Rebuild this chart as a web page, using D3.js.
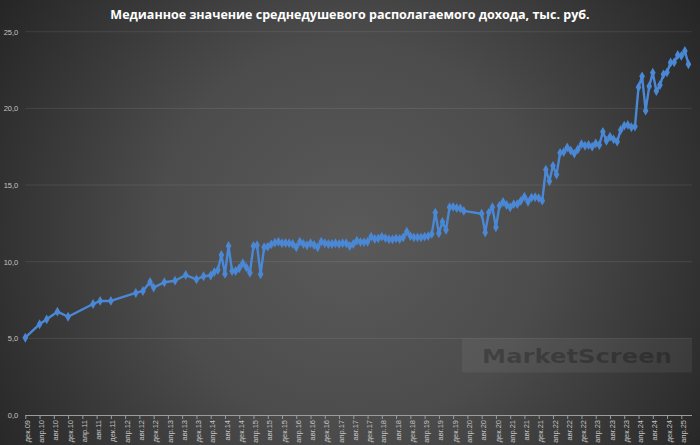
<!DOCTYPE html>
<html><head><meta charset="utf-8">
<script src="https://cdn.jsdelivr.net/npm/d3@7"></script>
<style>html,body{margin:0;padding:0;background:#333;}svg{display:block;}</style>
</head><body><svg id="c" width="700" height="445"></svg>
<script>
const title = "Медианное значение среднедушевого располагаемого дохода, тыс. руб.";
const dates = ["2009-12","2010-04","2010-06","2010-09","2010-12","2011-07","2011-09","2011-12","2012-07","2012-09","2012-11","2012-12","2013-03","2013-06","2013-09","2013-12","2014-02","2014-04","2014-05","2014-06","2014-07","2014-08","2014-09","2014-10","2014-11","2014-12","2015-01","2015-02","2015-03","2015-04","2015-05","2015-06","2015-07","2015-08","2015-09","2015-10","2015-11","2015-12","2016-01","2016-02","2016-03","2016-04","2016-05","2016-06","2016-07","2016-08","2016-09","2016-10","2016-11","2016-12","2017-01","2017-02","2017-03","2017-04","2017-05","2017-06","2017-07","2017-08","2017-09","2017-10","2017-11","2017-12","2018-01","2018-02","2018-03","2018-04","2018-05","2018-06","2018-07","2018-08","2018-09","2018-10","2018-11","2018-12","2019-01","2019-02","2019-03","2019-04","2019-05","2019-06","2019-07","2019-08","2019-09","2019-10","2019-11","2019-12","2020-01","2020-02","2020-03","2020-08","2020-09","2020-10","2020-11","2020-12","2021-01","2021-02","2021-03","2021-04","2021-05","2021-06","2021-07","2021-08","2021-09","2021-10","2021-11","2021-12","2022-01","2022-02","2022-03","2022-04","2022-05","2022-06","2022-07","2022-08","2022-09","2022-10","2022-11","2022-12","2023-01","2023-02","2023-03","2023-04","2023-05","2023-06","2023-07","2023-08","2023-09","2023-10","2023-11","2023-12","2024-01","2024-02","2024-03","2024-04","2024-05","2024-06","2024-07","2024-08","2024-09","2024-10","2024-11","2024-12","2025-01","2025-02","2025-03","2025-04","2025-05","2025-06"];
const values = [5.04,5.92,6.24,6.74,6.41,7.24,7.44,7.44,7.96,8.09,8.68,8.31,8.66,8.76,9.13,8.85,9.05,9.10,9.32,9.45,10.44,9.20,11.02,9.39,9.39,9.57,9.90,9.63,9.28,11.02,11.07,9.18,10.94,10.98,11.13,11.24,11.30,11.20,11.22,11.20,11.15,10.94,11.30,11.15,11.07,11.20,11.09,10.94,11.30,11.20,11.15,11.15,11.20,11.15,11.20,11.20,11.02,11.15,11.37,11.28,11.28,11.30,11.63,11.48,11.52,11.63,11.54,11.46,11.46,11.52,11.48,11.59,11.96,11.67,11.59,11.59,11.59,11.63,11.67,11.80,13.20,11.85,12.60,12.07,13.55,13.57,13.50,13.48,13.31,13.13,11.90,13.20,13.55,12.24,13.64,13.89,13.70,13.55,13.75,13.75,13.97,14.24,13.91,14.18,14.20,14.15,13.98,16.00,15.24,16.25,15.68,17.10,17.15,17.45,17.24,17.05,17.33,17.67,17.56,17.61,17.50,17.72,17.61,18.47,17.89,18.15,17.98,17.83,18.59,18.87,18.92,18.77,18.81,21.38,22.09,19.85,21.44,22.33,21.13,21.52,22.22,22.35,22.99,23.00,23.48,23.42,23.74,22.88];
const xTickLabels = ["дек.09","апр.10","авг.10","дек.10","апр.11","авг.11","дек.11","апр.12","авг.12","дек.12","апр.13","авг.13","дек.13","апр.14","авг.14","дек.14","апр.15","авг.15","дек.15","апр.16","авг.16","дек.16","апр.17","авг.17","дек.17","апр.18","авг.18","дек.18","апр.19","авг.19","дек.19","апр.20","авг.20","дек.20","апр.21","авг.21","дек.21","апр.22","авг.22","дек.22","апр.23","авг.23","дек.23","апр.24","авг.24","дек.24","апр.25"];
const yTicks = [0,5,10,15,20,25];
const watermark = "MarketScreen";

const svg = d3.select("#c");
const W = 700, H = 445;
const defs = svg.append("defs");
const rg = defs.append("radialGradient").attr("id","bg").attr("gradientUnits","userSpaceOnUse")
  .attr("cx",350).attr("cy",235).attr("r",430);
rg.append("stop").attr("offset","0").attr("stop-color","#5a5a5a");
rg.append("stop").attr("offset","0.45").attr("stop-color","#4c4c4c");
rg.append("stop").attr("offset","1").attr("stop-color","#242424");
svg.append("rect").attr("width",W).attr("height",H).attr("fill","url(#bg)");

const monthIdx = s => { const [y,m] = s.split("-").map(Number); return (y-2009)*12 + (m-12); };
const data = dates.map((d,i)=>({m: monthIdx(d), v: values[i]}));

const x = d3.scaleLinear().domain([0,187]).range([25.3,692]);
const y = d3.scaleLinear().domain([0,25]).range([415,31.7]);

// gridlines
svg.append("g").selectAll("line").data(yTicks.filter(t=>t>0)).join("line")
  .attr("x1",x(0)).attr("x2",x(187)).attr("y1",d=>y(d)).attr("y2",d=>y(d))
  .attr("stroke","rgba(255,255,255,0.09)").attr("stroke-width",1);

// y axis labels
const yAxis = d3.axisLeft(y).tickValues(yTicks).tickSize(0).tickPadding(7)
  .tickFormat(d=>d3.format(".1f")(d).replace(".",","));
const gy = svg.append("g").attr("transform",`translate(${x(0)},0)`).call(yAxis);
gy.select(".domain").remove();
gy.selectAll("text").attr("fill","#c4c4c4").style("font-family","Liberation Sans, Arial, sans-serif").style("font-size","7.5px");

// x axis
const xAxis = d3.axisBottom(x).tickValues(d3.range(0,185,4)).tickSize(4).tickPadding(0)
  .tickFormat((d,i)=>xTickLabels[i]);
const gx = svg.append("g").attr("transform",`translate(0,${y(0)})`).call(xAxis);
gx.select(".domain").attr("stroke","#9c9c9c").attr("d",`M${x(0)},0.5H${x(187)}`);
gx.selectAll(".tick line").attr("stroke","#9c9c9c");
gx.selectAll("text").attr("fill","#c4c4c4").style("font-family","Liberation Sans, Arial, sans-serif").style("font-size","7.5px")
  .attr("text-anchor","end").attr("x",-5).attr("y",0).attr("dy","0.35em").attr("dx",0);
gx.selectAll(".tick text").attr("transform","translate(1.5,0) rotate(-90)");

// watermark
svg.append("rect").attr("x",462).attr("y",338.5).attr("width",230).attr("height",34)
  .attr("fill","rgba(255,255,255,0.06)");
svg.append("text").attr("x",577).attr("y",363).attr("text-anchor","middle")
  .attr("fill","rgba(0,0,0,0.25)").style("font-family","DejaVu Sans, sans-serif").style("font-weight","bold")
  .style("font-size","19px").attr("textLength",190).attr("lengthAdjust","spacingAndGlyphs").text(watermark);

// line
const line = d3.line().x(d=>x(d.m)).y(d=>y(d.v));
svg.append("path").datum(data).attr("d",line).attr("fill","none")
  .attr("stroke","#4a88d6").attr("stroke-width",2.4).attr("stroke-linejoin","round");
svg.append("g").selectAll("path").data(data).join("path")
  .attr("transform",d=>`translate(${x(d.m)},${y(d.v)})`)
  .attr("d",d3.symbol().type(d3.symbolDiamond).size(28)).attr("fill","#4a88d6");

// title
const t = svg.append("text").attr("x",350).attr("y",19).attr("text-anchor","middle")
  .attr("fill","#ffffff").style("font-family","Open Sans, sans-serif").style("font-weight","bold")
  .style("font-size","12px").text(title);
const tw = t.node().getComputedTextLength();
t.style("font-size",(12*480/tw).toFixed(2)+"px");
</script></body></html>
